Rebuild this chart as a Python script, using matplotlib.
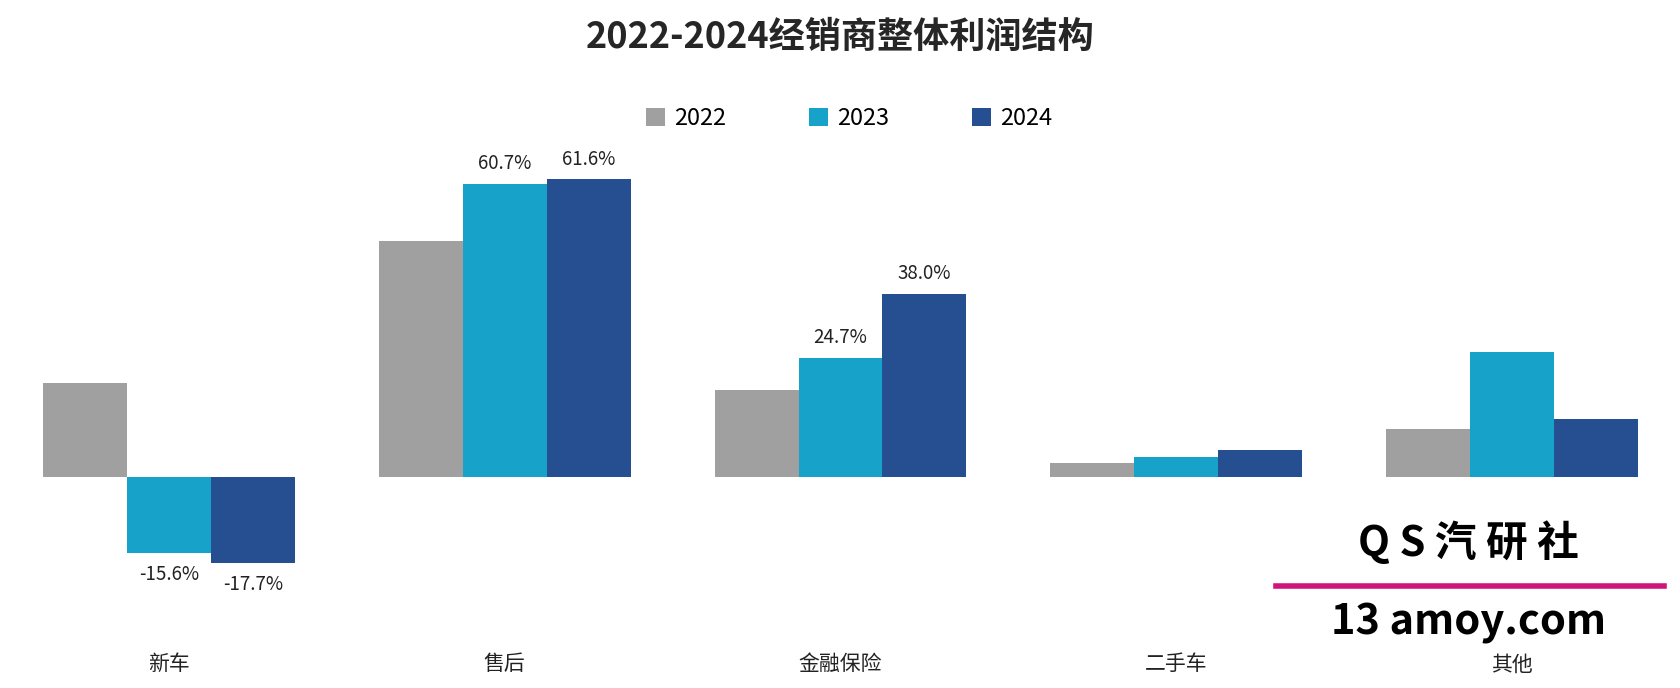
import matplotlib
matplotlib.use("Agg")
import matplotlib.pyplot as plt
from matplotlib.transforms import blended_transform_factory

plt.rcParams["font.family"] = "Noto Sans CJK SC"

categories = ["新车", "售后", "金融保险", "二手车", "其他"]
series_names = ["2022", "2023", "2024"]
v2022 = [19.6, 48.9, 18.0, 2.9, 10.0]
v2023 = [-15.6, 60.7, 24.7, 4.2, 26.0]
v2024 = [-17.7, 61.6, 38.0, 5.6, 12.0]
labels2022 = [None, None, None, None, None]
labels2023 = ["-15.6%", "60.7%", "24.7%", None, None]
labels2024 = ["-17.7%", "61.6%", "38.0%", None, None]
colors = ["#A0A0A0", "#17A2C9", "#264F92"]

fig = plt.figure(figsize=(16.81, 6.88), dpi=100)
ax = fig.add_axes([40/1568, 1-590/640, 1488/1568, 460/640])
w = 0.25
allvals = [v2022, v2023, v2024]
alllabels = [labels2022, labels2023, labels2024]
for j, (vals, labs) in enumerate(zip(allvals, alllabels)):
    xs = [i + (j-1)*w for i in range(len(categories))]
    ax.bar(xs, vals, width=w, color=colors[j], label=series_names[j])
    for x, v, l in zip(xs, vals, labs):
        if l:
            off = 2.0 if v >= 0 else -2.2
            ax.text(x, v+off, l, ha="center", va="bottom" if v >= 0 else "top",
                    fontsize=13.5, color="#222222")
ax.set_xlim(-0.375, len(categories)-1+0.375)
ax.set_ylim(-32.4, 69.8)
ax.axis("off")
tr = blended_transform_factory(ax.transData, fig.transFigure)
for i, c in enumerate(categories):
    ax.text(i, 1-618/640, c, ha="center", va="center", fontsize=15, color="#222222", transform=tr)

fig.text(0.5, 1-35/640, "2022-2024经销商整体利润结构", ha="center", va="center",
         fontsize=26, fontweight="bold", color="#262626")
fig.legend(loc="center", bbox_to_anchor=(0.505, 1-110/640), ncol=3, frameon=False,
           fontsize=17, handlelength=0.8, handleheight=0.8, columnspacing=3.5, handletextpad=0.4)

# watermark
fig.text(1370/1568, 1-505/640, "Q S 汽 研 社", ha="center", va="center", fontsize=30,
         fontweight="bold", color="black")
fig.text(1370/1568, 1-580/640, "13 amoy.com", ha="center", va="center", fontsize=30,
         fontweight="bold", color="black")
fig.add_artist(plt.Line2D([1190/1568, 1552/1568], [1-545/640]*2, color="#D0157A", lw=4))
fig.savefig("out.png", dpi=100)
